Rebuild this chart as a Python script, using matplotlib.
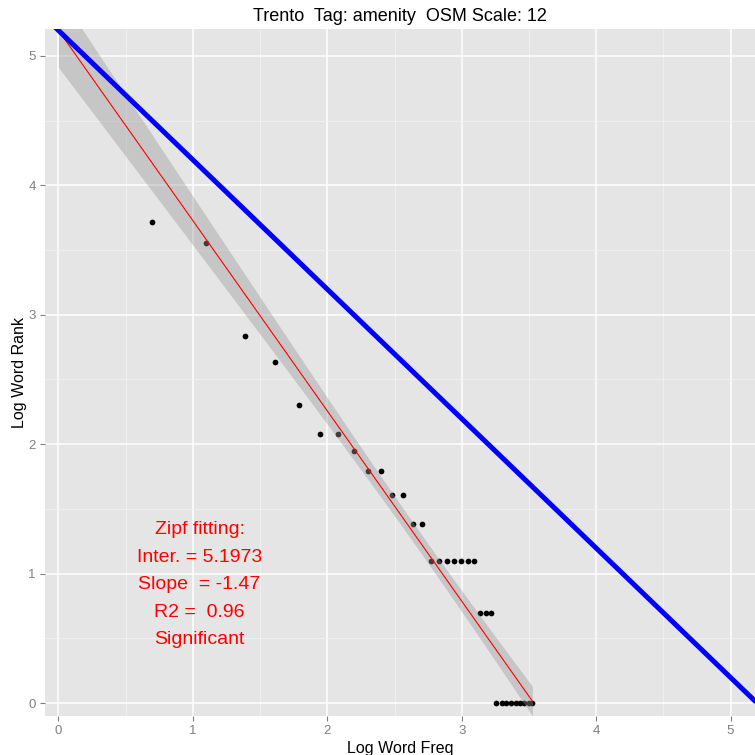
"""
Zipf plot for Trento / amenity tags: log rank vs log frequency,
fitted line with confidence band and the ideal slope -1 reference line.
"""

import matplotlib
matplotlib.use("Agg")
import matplotlib.pyplot as plt
import numpy as np

plt.rcParams["font.family"] = ["Liberation Sans", "DejaVu Sans"]

# values
log_freq = [0.693, 1.099, 1.386, 1.609, 1.792, 1.946, 2.079, 2.197, 2.303,
            2.398, 2.485, 2.565, 2.639, 2.708, 2.773, 2.833, 2.890, 2.944,
            2.996, 3.045, 3.091, 3.135, 3.178, 3.219, 3.258, 3.296, 3.332,
            3.367, 3.401, 3.434, 3.466, 3.497, 3.526]
log_rank = [3.714, 3.555, 2.833, 2.639, 2.303, 2.079, 2.079, 1.946, 1.792,
            1.792, 1.609, 1.609, 1.386, 1.386, 1.099, 1.099, 1.099, 1.099,
            1.099, 1.099, 1.099, 0.693, 0.693, 0.693, 0.0, 0.0, 0.0,
            0.0, 0.0, 0.0, 0.0, 0.0, 0.0]

fit_intercept = 5.1973
fit_slope = -1.47
fit_r2 = 0.96
fit_start = 0.0
zipf_slope = -1.0

title = "Trento  Tag: amenity  OSM Scale: 12"

x = np.array(log_freq)
y = np.array(log_rank)

# confidence band around the fitted line (95%)
resid = y - (fit_intercept + fit_slope * x)
n = len(x)
sigma = np.sqrt(np.sum(resid ** 2) / (n - 2))
sxx = np.sum((x - x.mean()) ** 2)
xs = np.linspace(fit_start, x.max(), 200)
ys = fit_intercept + fit_slope * xs
se = sigma * np.sqrt(1.0 / n + (xs - x.mean()) ** 2 / sxx)
band = 2.04 * se * 0.9

fig = plt.figure(figsize=(7.55, 7.55), dpi=100)
ax = fig.add_axes([0.0593, 0.0517, 0.9407, 0.91])
ax.set_facecolor("#E5E5E5")

ax.scatter(x, y, s=17, color="black", zorder=3, linewidths=0)
ax.fill_between(xs, ys - band, ys + band, color="#999999", alpha=0.4,
                linewidth=0, zorder=4)
ax.plot(xs, ys, color="red", lw=0.8, zorder=5)

xl = np.array([-0.2, 5.4])
ax.plot(xl, fit_intercept + zipf_slope * xl, color="#0000FF", lw=3.6,
        zorder=6, solid_capstyle="butt")

ax.text(1.05, 0.915,
        "Zipf fitting:\nInter. = %.4f\nSlope  = %.2f\nR2 =  %.2f\nSignificant"
        % (fit_intercept, fit_slope, fit_r2),
        color="red", fontsize=14, ha="center", va="center",
        linespacing=1.8, zorder=7)

ax.set_xlim(-0.102, 5.182)
ax.set_ylim(-0.100, 5.209)
ax.set_xticks([0, 1, 2, 3, 4, 5])
ax.set_yticks([0, 1, 2, 3, 4, 5])
ax.set_xticks(np.arange(0.5, 5.2, 1.0), minor=True)
ax.set_yticks(np.arange(0.5, 5.2, 1.0), minor=True)
ax.grid(which="major", color="white", lw=1.1)
ax.grid(which="minor", color="#F2F2F2", lw=0.6)
ax.set_axisbelow(True)
for sp in ax.spines.values():
    sp.set_visible(False)
ax.tick_params(which="major", length=3.5, color="#7F7F7F", labelcolor="#7F7F7F",
               labelsize=9.5, pad=3)
ax.tick_params(which="minor", length=0)

ax.set_xlabel("Log Word Freq", fontsize=11.5, labelpad=3)
ax.set_ylabel("Log Word Rank", fontsize=11.5, labelpad=1)
ax.set_title(title, fontsize=13, pad=6)

fig.savefig("out.png", dpi=100)
